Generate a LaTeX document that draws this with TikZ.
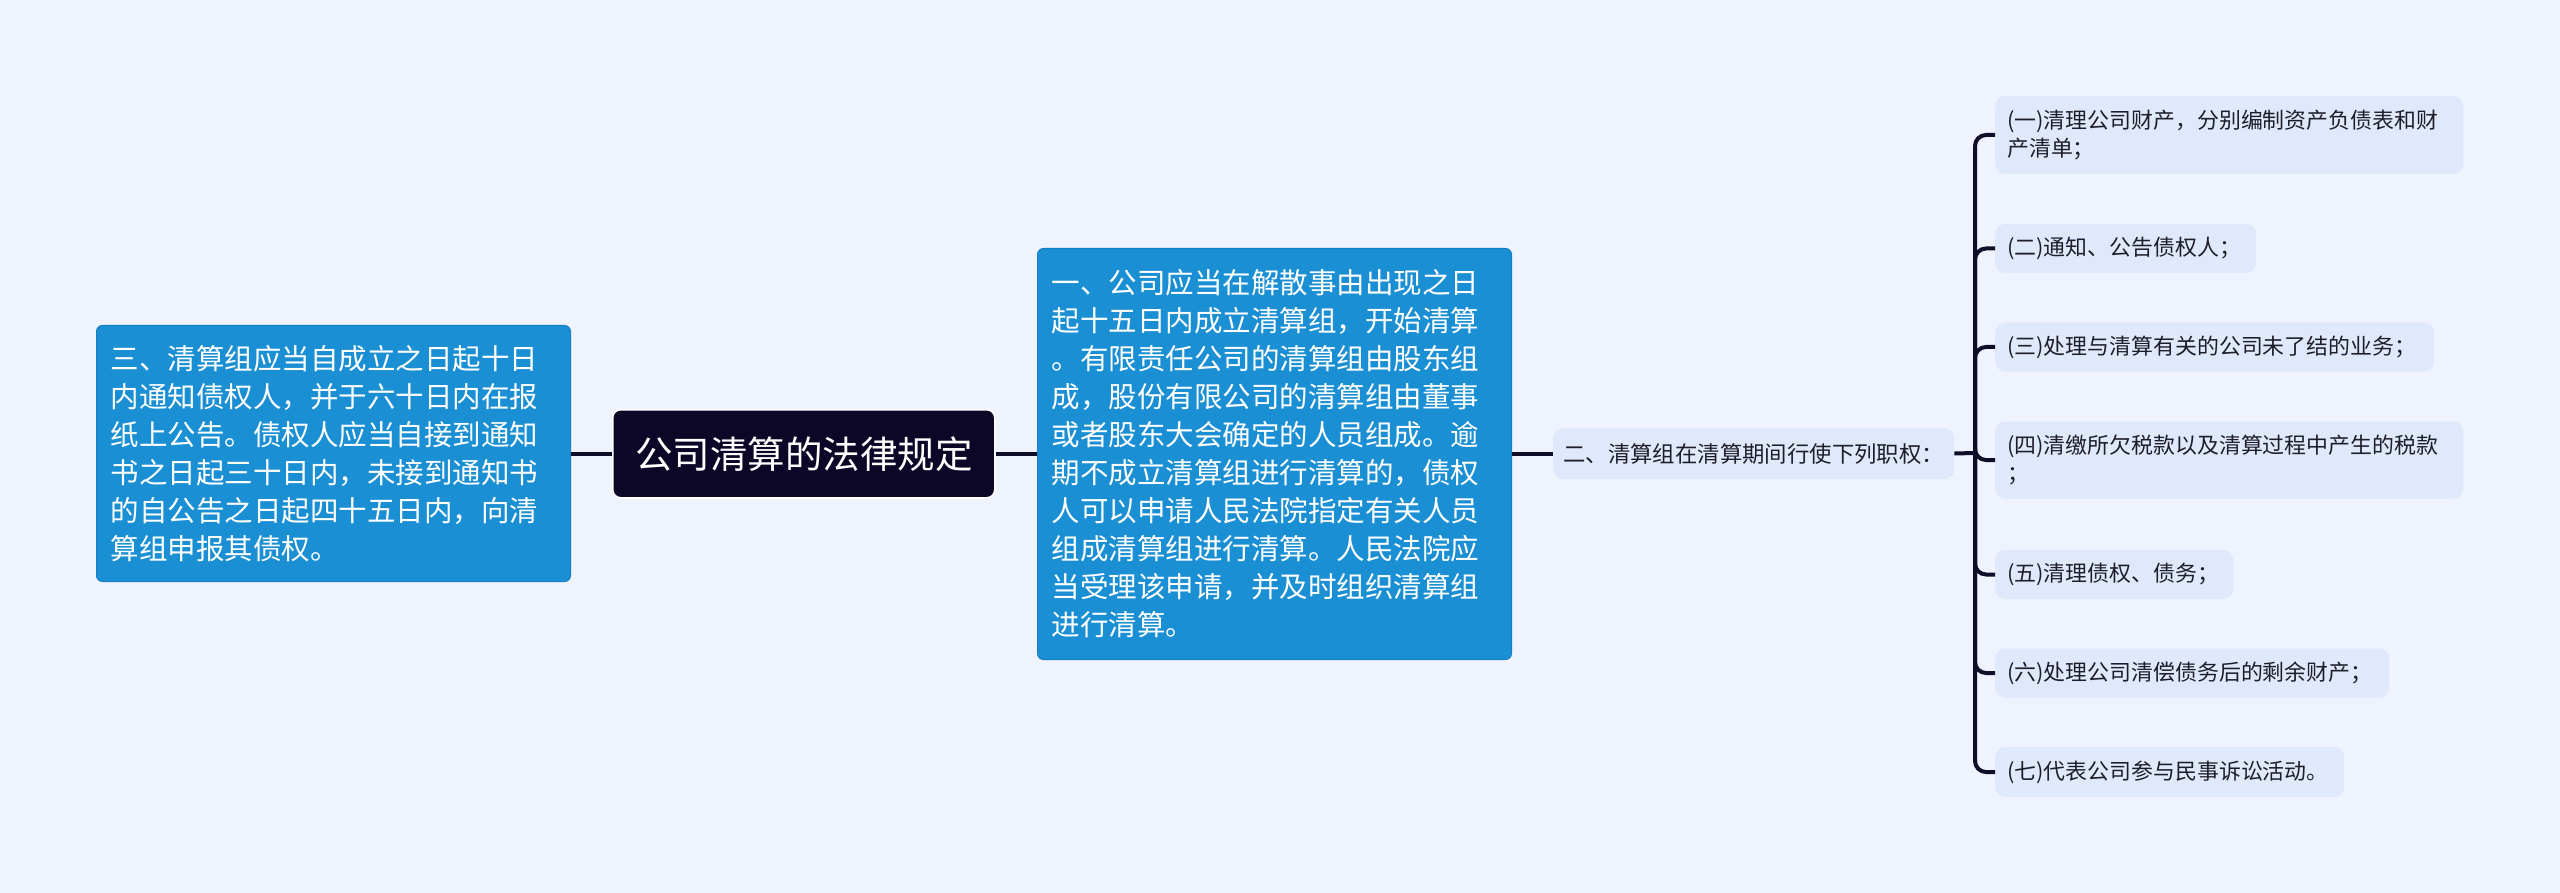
\documentclass[tikz,border=0pt]{standalone}
\usepackage{fontspec}
\newfontfamily\cjk{Noto Sans CJK SC}
\definecolor{bg}{HTML}{EEF3FE}
\definecolor{blueA}{HTML}{1B8FD3}
\definecolor{blueB}{HTML}{1580C4}
\definecolor{rootC}{HTML}{0C0727}
\definecolor{leafC}{HTML}{E0E9FB}
\definecolor{lineC}{HTML}{0F0D28}
\definecolor{txtC}{HTML}{1E1E2A}
\tikzset{
  bluebox/.style={draw=blueB, line width=1pt, fill=blueA, rounded corners=6pt, text=white,
    font=\cjk\fontsize{28.5}{38}\selectfont, align=left, inner xsep=14pt, inner ysep=0pt,
    anchor=north west},
  rootbox/.style={draw=white, line width=1.5pt, fill=rootC, rounded corners=8pt, text=white,
    font=\cjk\fontsize{37.5}{44}\selectfont, minimum width=382pt, minimum height=88pt,
    inner sep=0pt, anchor=north west},
  leafbox/.style={fill=leafC, rounded corners=10pt, text=txtC,
    font=\cjk\fontsize{21.9}{28.5}\selectfont, align=left, inner xsep=12pt, inner ysep=0pt,
    anchor=west},
  conn/.style={draw=lineC, line width=4pt},
  branch/.style={draw=lineC, line width=4pt, rounded corners=11pt},
}
\begin{document}
\begin{tikzpicture}[x=1pt,y=-1pt]
\fill[bg] (0,0) rectangle (2560,893);
\useasboundingbox (0,0) rectangle (2560,893);

\node[rootbox] (root) at (612,409) {公司清算的法律规定};

\node[bluebox, text width=446pt, minimum height=256pt] (left) at (96,325)
  {三、清算组应当自成立之日起十日\\内通知债权人，并于六十日内在报\\纸上公告。债权人应当自接到通知\\书之日起三十日内，未接到通知书\\的自公告之日起四十五日内，向清\\算组申报其债权。};

\node[bluebox, text width=446pt, minimum height=411pt] (mid) at (1037,248)
  {一、公司应当在解散事由出现之日\\起十五日内成立清算组，开始清算\\。有限责任公司的清算组由股东组\\成，股份有限公司的清算组由董事\\或者股东大会确定的人员组成。逾\\期不成立清算组进行清算的，债权\\人可以申请人民法院指定有关人员\\组成清算组进行清算。人民法院应\\当受理该申请，并及时组织清算组\\进行清算。};

\node[leafbox, font=\cjk\fontsize{22.4}{28}\selectfont, inner xsep=10pt, minimum width=401pt, text width=381pt, minimum height=51pt] (two) at (1553,453.5)
  {二、清算组在清算期间行使下列职权：};

\coordinate (hub) at (1975,453);

\node[leafbox, minimum width=468pt, text width=444pt, minimum height=78pt] (i1) at (1995,135)
  {(一)清理公司财产，分别编制资产负债表和财\\产清单；};
\node[leafbox, minimum width=261pt, text width=237pt, minimum height=49pt] (i2) at (1995,248.5)
  {(二)通知、公告债权人；};
\node[leafbox, minimum width=439pt, text width=415pt, minimum height=49pt] (i3) at (1995,347)
  {(三)处理与清算有关的公司未了结的业务；};
\node[leafbox, minimum width=468pt, text width=444pt, minimum height=77pt] (i4) at (1995,460)
  {(四)清缴所欠税款以及清算过程中产生的税款\\；};
\node[leafbox, minimum width=238pt, text width=214pt, minimum height=49pt] (i5) at (1995,574.5)
  {(五)清理债权、债务；};
\node[leafbox, minimum width=394pt, text width=370pt, minimum height=49pt] (i6) at (1995,673)
  {(六)处理公司清偿债务后的剩余财产；};
\node[leafbox, minimum width=349pt, text width=325pt, minimum height=50pt] (i7) at (1995,772)
  {(七)代表公司参与民事诉讼活动。};

\draw[conn] (left.east |- root.west) -- (root.west);
\draw[conn] (root.east) -- (mid.west |- root.east);
\draw[conn] (mid.east |- two.west) -- (two.west);
\draw[conn] (two.east) -- (hub);

\foreach \n in {i1,i2,i3,i4,i5,i6,i7}{
  \draw[branch] (hub) |- (\n.west);
}
\end{tikzpicture}
\end{document}
